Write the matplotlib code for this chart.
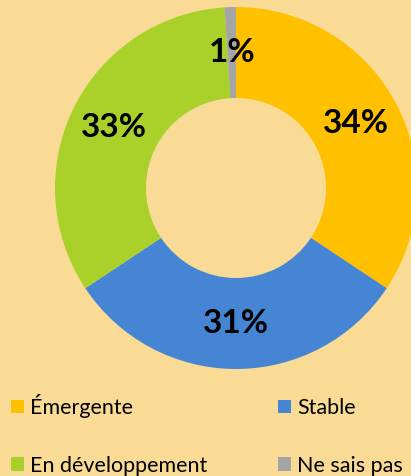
import matplotlib
matplotlib.use('Agg')
from matplotlib import pyplot as plt
from matplotlib.patches import Patch

categories = ['Émergente', 'Stable', 'En développement', 'Ne sais pas']
values = [34, 31, 33, 1]
colors = ['#FFC000', '#4685D4', '#A9D12A', '#A5A5A5']
bg = '#F9DB95'

fig = plt.figure(figsize=(4.11, 4.76), dpi=100, facecolor=bg)
ax = fig.add_axes([0, 0, 1, 1])
ax.set_facecolor(bg)
ax.axis('off')

wedges, texts, autotexts = ax.pie(
    values, colors=colors, startangle=90, counterclock=False,
    center=(236, 288), radius=181, autopct='%.0f%%', pctdistance=0.75,
    wedgeprops=dict(width=91, linewidth=0),
    textprops=dict(fontsize=24, fontweight='bold', family='Lato', color='black'))
ax.set_xlim(0, 411)
ax.set_ylim(0, 476)
ax.set_aspect('equal')

handles = [Patch(facecolor=c, edgecolor='none') for c in colors]
# legend order: row-wise (Émergente, Stable / En développement, Ne sais pas)
order = [0, 2, 1, 3]
leg = ax.legend([handles[i] for i in order], [categories[i] for i in order],
                ncol=2, loc='upper left', bbox_to_anchor=(11 / 411, 1 - 394 / 476),
                bbox_transform=fig.transFigure, frameon=False,
                prop=dict(family='Lato', size=15.5),
                handlelength=0.6, handleheight=0.6, handletextpad=0.3,
                labelspacing=1.75, columnspacing=3.25, borderpad=0, borderaxespad=0)

fig.savefig('out.png', dpi=100, facecolor=bg)
